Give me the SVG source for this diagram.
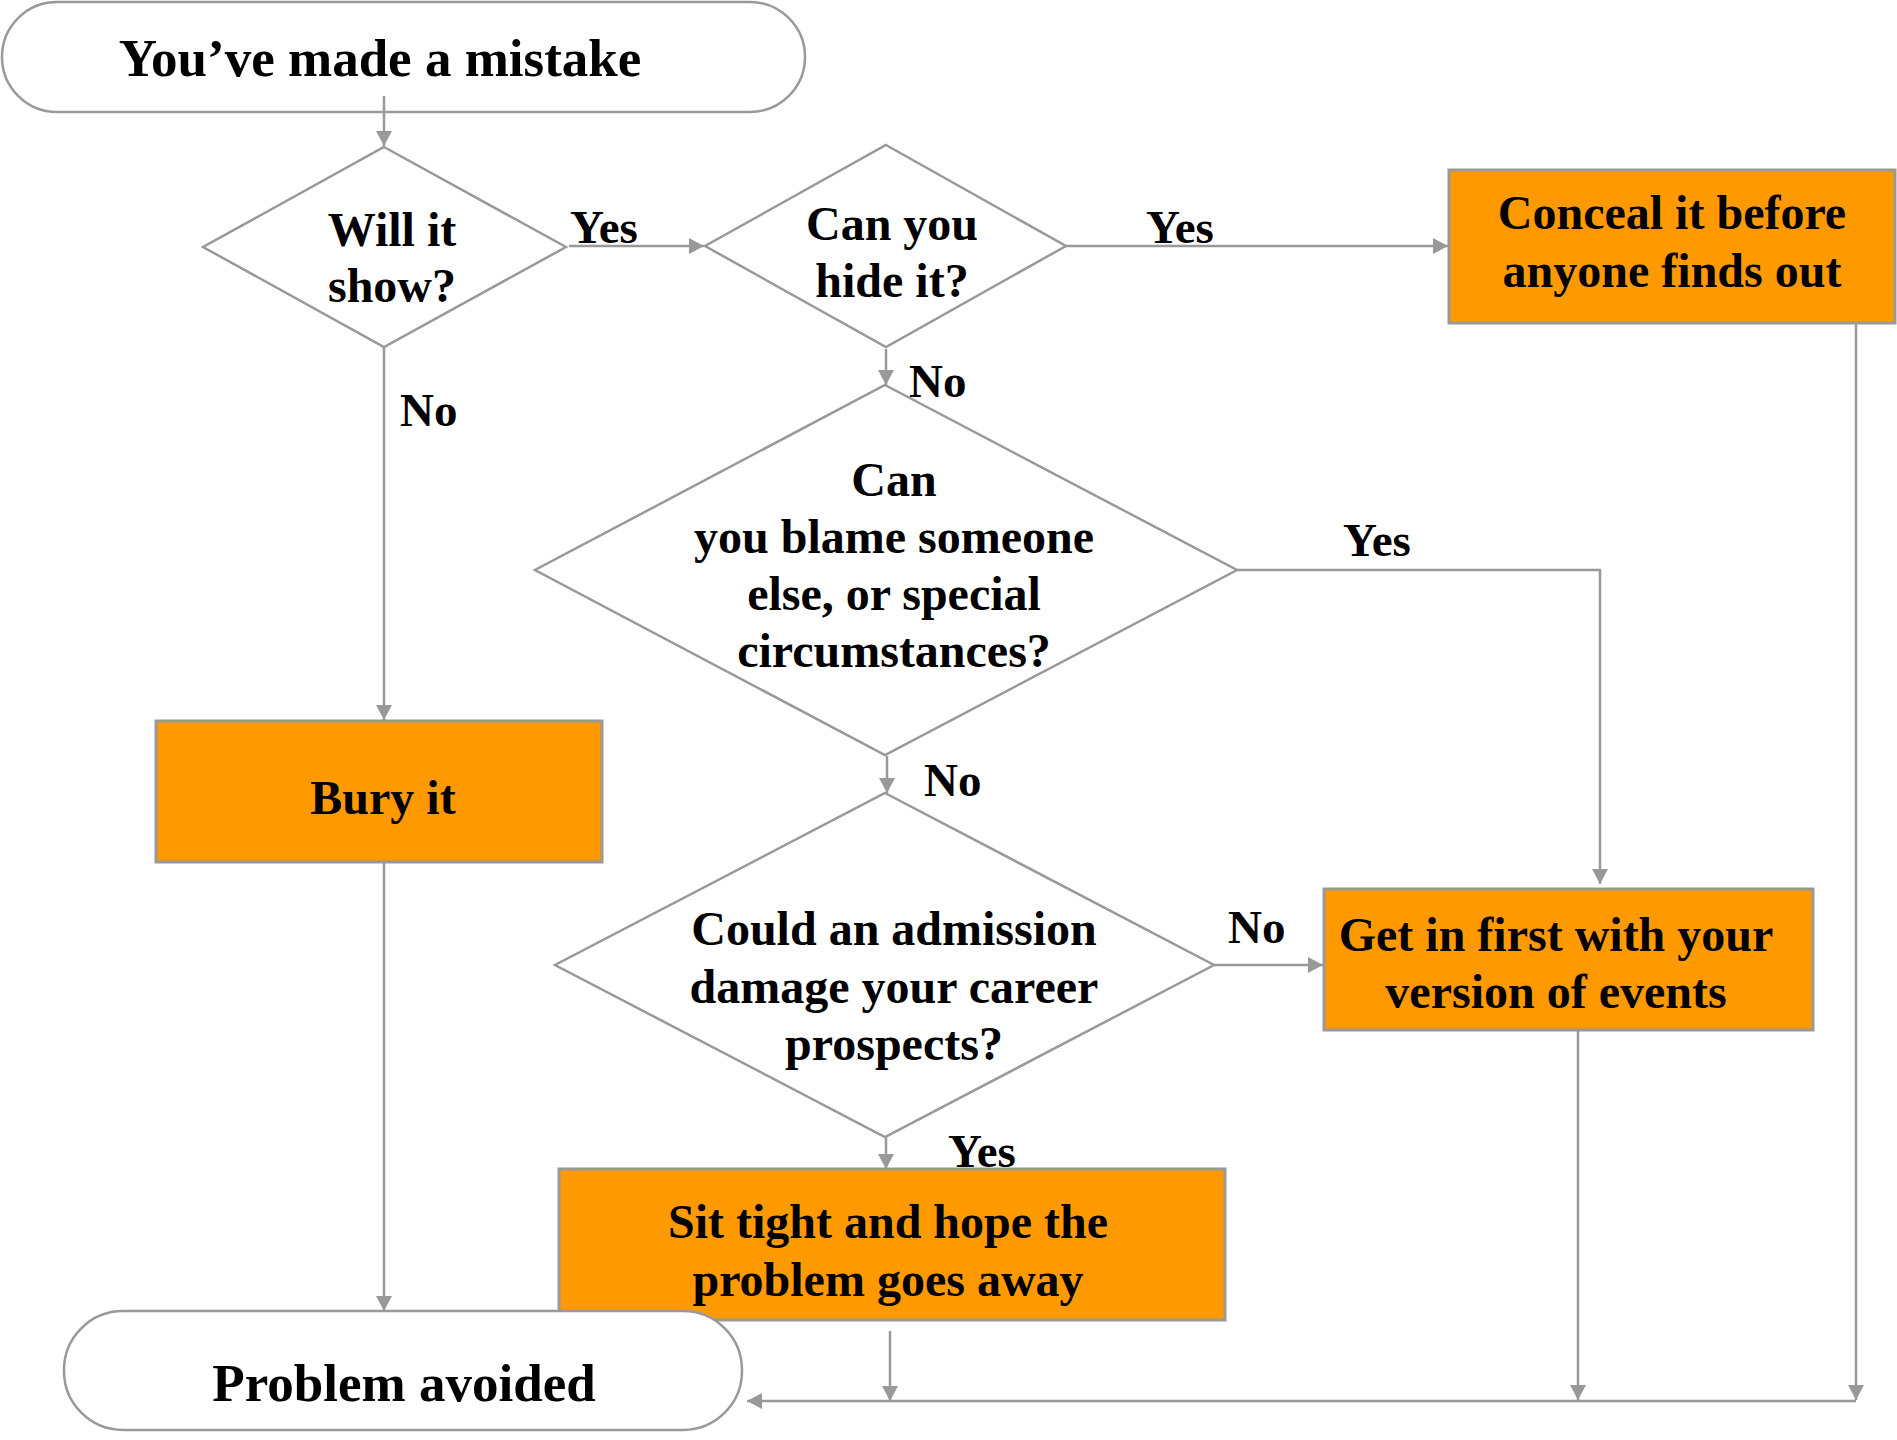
<svg xmlns="http://www.w3.org/2000/svg" width="1897" height="1440" viewBox="0 0 1897 1440">
<style>
.term{fill:#fff;stroke:#999;stroke-width:2.5}
.box{fill:#FF9900;stroke:#999;stroke-width:3}
.dia{fill:#fff;stroke:#999;stroke-width:2.5}
.t{font-family:"Liberation Serif","Times New Roman",serif;font-weight:bold;font-size:48px;fill:#000;text-anchor:middle}
.big{font-size:53px}
.lbl{font-family:"Liberation Serif","Times New Roman",serif;font-weight:bold;font-size:47px;fill:#000}
.c{fill:none;stroke:#999;stroke-width:2.5}
</style>
<defs>
<marker id="ah" markerUnits="userSpaceOnUse" markerWidth="16" markerHeight="16" viewBox="0 0 16 16" refX="15" refY="8" orient="auto">
<path d="M0,0 L15,8 L0,16 Z" fill="#999"/>
</marker>
</defs>
<rect width="1897" height="1440" fill="#fff"/>
<g id="start">
<rect class="term" x="2" y="2" width="803" height="110" rx="55"/>
<text class="t big" x="380" y="76">You’ve made a mistake</text>
</g>
<g id="d1">
<polygon class="dia" points="384,147 566,247 384,347 203,247"/>
<text class="t" x="392" y="246">Will it</text>
<text class="t" x="392" y="302">show?</text>
</g>
<g id="d2">
<polygon class="dia" points="886,145 1066,246 886,347 705,246"/>
<text class="t" x="892" y="240">Can you</text>
<text class="t" x="892" y="297">hide it?</text>
</g>
<g id="conceal">
<rect class="box" x="1449" y="170" width="446" height="153"/>
<text class="t" x="1672" y="229">Conceal it before</text>
<text class="t" x="1672" y="287">anyone finds out</text>
</g>
<g id="d3">
<polygon class="dia" points="885,385 1237,570 885,755 535,570"/>
<text class="t" x="894" y="496">Can</text>
<text class="t" x="894" y="553">you blame someone</text>
<text class="t" x="894" y="610">else, or special</text>
<text class="t" x="894" y="667">circumstances?</text>
</g>
<g id="bury">
<rect class="box" x="156" y="721" width="446" height="141"/>
<text class="t" x="383" y="814">Bury it</text>
</g>
<g id="d4">
<polygon class="dia" points="885,793 1214,965 885,1137 555,965"/>
<text class="t" x="894" y="945">Could an admission</text>
<text class="t" x="894" y="1003">damage your career</text>
<text class="t" x="894" y="1060">prospects?</text>
</g>
<g id="getin">
<rect class="box" x="1324" y="889" width="489" height="141"/>
<text class="t" x="1556" y="951">Get in first with your</text>
<text class="t" x="1556" y="1008">version of events</text>
</g>
<g id="sit">
<rect class="box" x="559" y="1169" width="666" height="151"/>
<text class="t" x="888" y="1238">Sit tight and hope the</text>
<text class="t" x="888" y="1296">problem goes away</text>
</g>
<g id="end">
<rect class="term" x="64" y="1311" width="678" height="119" rx="59"/>
<text class="t big" x="404" y="1401">Problem avoided</text>
</g>
<g id="connectors">
<line class="c" x1="384" y1="96" x2="384" y2="146" marker-end="url(#ah)"/>
<line class="c" x1="569" y1="246" x2="704" y2="246" marker-end="url(#ah)"/>
<line class="c" x1="1066" y1="246" x2="1448" y2="246" marker-end="url(#ah)"/>
<line class="c" x1="886" y1="349" x2="886" y2="385" marker-end="url(#ah)"/>
<line class="c" x1="384" y1="347" x2="384" y2="720" marker-end="url(#ah)"/>
<polyline class="c" points="1237,570 1600,570 1600,884" marker-end="url(#ah)"/>
<line class="c" x1="887" y1="756" x2="887" y2="793" marker-end="url(#ah)"/>
<line class="c" x1="1214" y1="965" x2="1323" y2="965" marker-end="url(#ah)"/>
<line class="c" x1="886" y1="1137" x2="886" y2="1169" marker-end="url(#ah)"/>
<line class="c" x1="384" y1="862" x2="384" y2="1311" marker-end="url(#ah)"/>
<line class="c" x1="890" y1="1331" x2="890" y2="1401" marker-end="url(#ah)"/>
<line class="c" x1="1578" y1="1030" x2="1578" y2="1400" marker-end="url(#ah)"/>
<line class="c" x1="1856" y1="323" x2="1856" y2="1400" marker-end="url(#ah)"/>
<line class="c" x1="1856" y1="1401" x2="747" y2="1401" marker-end="url(#ah)"/>
<text class="lbl" x="570" y="243">Yes</text>
<text class="lbl" x="1146" y="243">Yes</text>
<text class="lbl" x="400" y="426">No</text>
<text class="lbl" x="909" y="397">No</text>
<text class="lbl" x="1343" y="556">Yes</text>
<text class="lbl" x="924" y="796">No</text>
<text class="lbl" x="1228" y="943">No</text>
<text class="lbl" x="948" y="1167">Yes</text>
</g>
</svg>
